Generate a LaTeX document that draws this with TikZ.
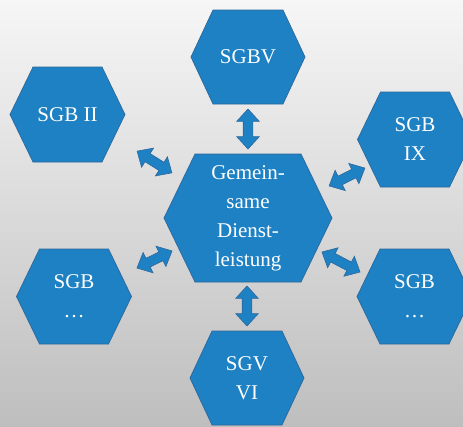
\documentclass[tikz,border=0pt]{standalone}
\usepackage{fontspec}
\setmainfont{Liberation Serif}
\usetikzlibrary{shapes.arrows}
\definecolor{hexfill}{RGB}{30,129,196}
\definecolor{hexline}{RGB}{44,104,156}
\definecolor{bgtop}{RGB}{246,246,246}
\definecolor{bgbot}{RGB}{190,190,190}
\tikzset{
  hexshape/.style={fill=hexfill, draw=hexline, line width=0.7pt, line join=miter},
  hexlabel/.style={text=white, align=center, font=\fontsize{21}{29}\selectfont, inner sep=0pt},
  blockarrow/.style={double arrow, fill=hexfill, draw=hexline, line width=0.6pt,
    double arrow head extend=6.5pt, double arrow tip angle=85,
    inner sep=4.5pt},
}
\newcommand{\hexnode}[7]{%
  \draw[hexshape] ({#2-#4},#3) -- ({#2-#4+#6},{#3-#5}) -- ({#2+#4-#6},{#3-#5})
    -- ({#2+#4},#3) -- ({#2+#4-#6},{#3+#5}) -- ({#2-#4+#6},{#3+#5}) -- cycle;
  \node[hexlabel] (#1) at (#2,#3) {#7};
}
\begin{document}
\begin{tikzpicture}[x=1pt,y=-1pt]
  \shade[top color=bgtop, bottom color=bgbot] (0,0) rectangle (463,426);
  \useasboundingbox (0,0) rectangle (463,426);
  \begin{scope}
    \clip (0,0) rectangle (463,426);
    \hexnode{center}{248}{218}{84}{64}{31}{Gemein-\\same\\Dienst-\\leistung}
    \hexnode{sgbv}{248}{57}{57}{47}{22}{SGBV}
    \hexnode{sgbii}{67.5}{114.5}{57.5}{47.5}{23}{SGB II}
    \hexnode{sgbix}{415}{139.5}{57.5}{47.5}{23}{SGB\\IX}
    \hexnode{sgbl}{74}{296.5}{57.5}{47.5}{23}{SGB\\\dots}
    \hexnode{sgbr}{414.5}{296.5}{57.5}{47.5}{23}{SGB\\\dots}
    \hexnode{sgvvi}{247}{378}{57}{47}{22}{SGV\\VI}
  \end{scope}
  \node[blockarrow, minimum height=40pt, rotate=90] (a1) at (248,129) {};
  \node[blockarrow, minimum height=40pt, rotate=90] (a2) at (247,306) {};
  \node[blockarrow, minimum height=41pt, rotate=-32] (a3) at (154.5,162) {};
  \node[blockarrow, minimum height=40pt, rotate=26.6] (a4) at (347,177) {};
  \node[blockarrow, minimum height=39pt, rotate=26] (a5) at (154.5,259.5) {};
  \node[blockarrow, minimum height=43pt, rotate=-27.8] (a6) at (341,262) {};
\end{tikzpicture}
\end{document}
